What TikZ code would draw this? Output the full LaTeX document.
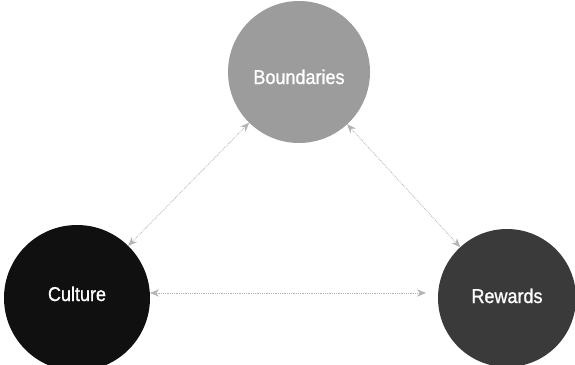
\documentclass[tikz,border=0pt]{standalone}
\usepackage{fontspec}
\setmainfont{Liberation Sans}
\newfontfamily\ballfont[FakeStretch=0.9,FakeBold=1]{Liberation Sans}
\usetikzlibrary{positioning,arrows.meta}
\definecolor{BoundGray}{RGB}{156,156,156}
\definecolor{CultureBlack}{RGB}{16,16,16}
\definecolor{RewardGray}{RGB}{58,58,58}
\definecolor{LinkGray}{RGB}{180,180,180}
\tikzset{
  link/.style={{Stealth[length=3.2mm,width=2.6mm]}-{Stealth[length=3.2mm,width=2.6mm]},
    densely dotted,thick,draw=LinkGray},
  ball/.style={circle,inner sep=0pt,outer sep=0pt,text=white,
    font=\ballfont\fontsize{20}{22}\selectfont}
}
\begin{document}
\begin{tikzpicture}[x=1pt,y=-1pt]
  \useasboundingbox (0,0) rectangle (575,364);
  \node[ball,fill=BoundGray,minimum size=142pt] (bound) at (299,72) {\raisebox{-12pt}[0pt][0pt]{Boundaries}};
  \node[ball,fill=CultureBlack,minimum size=146pt] (culture) at (77,298) {\raisebox{-3pt}[0pt][0pt]{Culture}};
  \node[ball,fill=RewardGray,minimum size=138pt] (reward) at (507,298) {\raisebox{-5pt}[0pt][0pt]{Rewards}};
  \draw[link] (bound) -- (culture);
  \draw[link] (bound) -- (reward);
  \draw[link,shorten >=12pt] ([yshift=5pt]culture.east) -- ([yshift=5pt]reward.west);
\end{tikzpicture}
\end{document}
